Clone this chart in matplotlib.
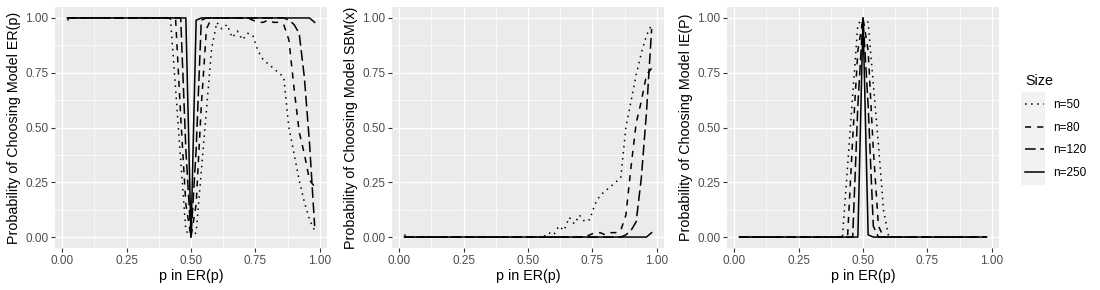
import numpy as np
import matplotlib
matplotlib.use("Agg")
import matplotlib.pyplot as plt
from matplotlib.patches import Rectangle

plt.rcParams["font.family"] = ["Liberation Sans", "DejaVu Sans"]

# grid of p values used in the simulation: 0.02, 0.04, ..., 0.98
p = np.linspace(0.02, 0.98, 49)

sizes = ["n=50", "n=80", "n=120", "n=250"]

# probability of choosing ER(p)
er_50 = ([0.99] + [1.0] * 19 +
         [1.0, 0.68, 0.35, 0.03, 0.0, 0.02, 0.30, 0.58, 0.86, 0.98,
          0.95, 0.97, 0.91, 0.94, 0.90, 0.93, 0.92, 0.85, 0.81, 0.79,
          0.77, 0.75, 0.73, 0.50, 0.38, 0.26, 0.16, 0.08, 0.03])
er_80 = ([1.0] * 21 +
         [1.0, 0.55, 0.15, 0.0, 0.15, 0.60, 0.95, 1.0] + [1.0] * 7 +
         [0.99, 0.98, 0.98, 0.99, 0.98, 0.98, 0.97, 0.90, 0.68, 0.48,
          0.38, 0.26, 0.23])
er_120 = ([1.0] * 22 +
          [1.0, 0.40, 0.0, 0.40, 0.99] + [1.0] * 16 +
          [0.99, 0.97, 0.93, 0.73, 0.43, 0.05])
er_250 = [1.0] * 24 + [0.0, 0.99] + [1.0] * 22 + [0.98]

# probability of choosing SBM(x)
sbm_50 = ([0.01] + [0.0] * 27 +
          [0.02, 0.01, 0.05, 0.03, 0.09, 0.06, 0.10, 0.07, 0.08, 0.15,
           0.19, 0.21, 0.23, 0.25, 0.27, 0.50, 0.62, 0.74, 0.84, 0.92,
           0.97])
sbm_80 = ([0.0] * 36 +
          [0.01, 0.02, 0.02, 0.01, 0.02, 0.02, 0.03, 0.10, 0.32, 0.52,
           0.62, 0.74, 0.77])
sbm_120 = [0.0] * 43 + [0.01, 0.03, 0.07, 0.27, 0.57, 0.95]
sbm_250 = [0.0] * 48 + [0.02]

# probability of choosing IE(P)
ie_50 = [0.0] * 21 + [0.32, 0.65, 0.97, 1.0, 0.98, 0.70, 0.42, 0.12] + [0.0] * 20
ie_80 = [0.0] * 22 + [0.45, 0.85, 1.0, 0.85, 0.40, 0.05] + [0.0] * 21
ie_120 = [0.0] * 23 + [0.60, 1.0, 0.60, 0.05] + [0.0] * 22
ie_250 = [0.0] * 24 + [1.0, 0.01] + [0.0] * 23

panels = [
    ([er_50, er_80, er_120, er_250], "Probability of Choosing Model ER(p)"),
    ([sbm_50, sbm_80, sbm_120, sbm_250], "Probability of Choosing Model SBM(x)"),
    ([ie_50, ie_80, ie_120, ie_250], "Probability of Choosing Model IE(P)"),
]

dash_styles = [(1, 3), (4, 4), (7, 3), None]

fig = plt.figure(figsize=(11, 2.9), dpi=100)
lefts = [55, 392, 727]
width = 272
bottom = 1 - 248 / 290
height = 241 / 290

handles = []
for i, (series, ylabel) in enumerate(panels):
    ax = fig.add_axes([lefts[i] / 1100, bottom, width / 1100, height])
    ax.set_facecolor("#EBEBEB")
    for s in ax.spines.values():
        s.set_visible(False)
    ax.set_xlim(-0.028, 1.028)
    ax.set_ylim(-0.05, 1.05)
    ticks = [0, 0.25, 0.5, 0.75, 1.0]
    ax.set_xticks(ticks)
    ax.set_yticks(ticks)
    ax.set_xticklabels([f"{t:.2f}" for t in ticks])
    ax.set_yticklabels([f"{t:.2f}" for t in ticks])
    ax.set_xticks([0.125, 0.375, 0.625, 0.875], minor=True)
    ax.set_yticks([0.125, 0.375, 0.625, 0.875], minor=True)
    ax.grid(which="major", color="white", lw=1.0)
    ax.grid(which="minor", color="white", lw=0.5)
    ax.set_axisbelow(True)
    ax.tick_params(which="major", length=2.8, width=0.8, color="#333333",
                   labelsize=8.5, labelcolor="#4D4D4D", pad=2)
    ax.tick_params(which="minor", length=0)
    ax.set_xlabel("p in ER(p)", fontsize=10.3, labelpad=2)
    ax.set_ylabel(ylabel, fontsize=10.3, labelpad=3)

    for vals, lab, ds in zip(series, sizes, dash_styles):
        line, = ax.plot(p, vals, color="black", lw=1.1, label=lab)
        if ds is not None:
            line.set_dashes(ds)
        if i == 0:
            handles.append(line)

# legend key background
fig.add_artist(Rectangle((1021 / 1100, 1 - 185 / 290), 24 / 1100, 93 / 290,
                         transform=fig.transFigure, facecolor="#F2F2F2",
                         edgecolor="none", zorder=0))
leg = fig.legend(handles, sizes, title="Size", loc="upper left",
                 bbox_to_anchor=(1016 / 1100, 1 - 65 / 290), frameon=False,
                 fontsize=8.5, title_fontsize=10.3, handlelength=1.6,
                 handletextpad=0.75, labelspacing=0.9, borderpad=0.3)
leg._legend_box.align = "left"

fig.savefig("out.png", dpi=100)
